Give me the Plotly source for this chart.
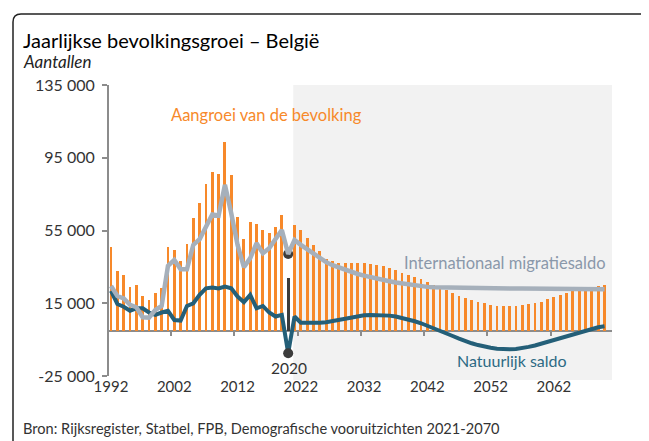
import plotly.graph_objects as go

years = list(range(1992, 2071))

growth = [46100, 32800, 30400, 24200, 24900, 18900, 17000, 20700, 23600, 46100,
          44300, 38500, 47600, 62100, 70200, 80500, 87400, 85800, 103700, 85600,
          62400, 50300, 59500, 58800, 55300, 53900, 57200, 63500, 28800, 58100,
          55300, 50800, 47100, 44000, 39200, 38300, 37400, 37400, 37400, 37300,
          37200, 36600, 36100, 35500, 34300, 33300, 31900, 30600, 29300, 28200,
          26500, 24900, 23500, 22300, 20700, 19200, 18100, 16800, 15700, 15000,
          14100, 13700, 13500, 13400, 13400, 13900, 14500, 15000, 15900, 17200,
          18300, 19400, 20500, 21800, 22900, 23600, 24200, 24700, 25100]

migration = [24500, 19000, 17600, 14100, 12800, 7300, 7100, 11300, 13500, 35500,
             38800, 33700, 33700, 47100, 50200, 57200, 63800, 63200, 80100, 64500,
             47100, 34800, 39800, 48000, 42500, 45300, 50200, 55300, 42100, 49800,
             47100, 44700, 42100, 39800, 37600, 35900, 34600, 33300, 32200, 31100,
             30200, 29300, 28500, 27800, 27100, 26400, 25800, 25300, 24700, 24400,
             24000, 23800, 23700, 23600, 23500, 23400, 23300, 23300, 23200, 23200,
             23200, 23100, 23100, 23100, 23100, 23100, 23100, 23000, 23000, 23000,
             23000, 22900, 22900, 22900, 22900, 22800, 22800, 22800, 22700]

natural = [21800, 14600, 13100, 10900, 12200, 12200, 9900, 8600, 9900, 10800,
           5800, 5500, 13500, 15000, 19600, 23200, 23600, 23100, 24200, 23200,
           18700, 15600, 19600, 12200, 13500, 9900, 7700, 8600, -12500, 7700,
           4300, 4200, 4200, 4300, 4600, 5200, 6000, 6800, 7500, 8000,
           8400, 8600, 8600, 8500, 8200, 7700, 7000, 6100, 5100, 4000,
           2700, 1300, -100, -1500, -3000, -4400, -5800, -7000, -8000, -8900,
           -9500, -10000, -10300, -10300, -10100, -9700, -9000, -8200, -7200, -6100,
           -5000, -3900, -2800, -1700, -700, 300, 1100, 1800, 2300]

highlight_year = 2020
projection_start = 2020.8

x_label_years = [1992, 2002, 2012, 2022, 2032, 2042, 2052, 2062]
x_tick_marks = [2001.5, 2011.5, 2021.5, 2031.5, 2041.5, 2051.5, 2061.5]
y_tickvals = [-25000, 15000, 55000, 95000, 135000]
y_ticktext = ["-25 000", "15 000", "55 000", "95 000", "135 000"]

ORANGE = "#F7892A"
GREY = "#A6B0BB"
TEAL = "#245F78"
DARK = "#3C3C3C"
AXIS = "#8C8C8C"

# the page body adds an 8px offset; work in page pixels and subtract it
OFF = 8
W, H = 649 - OFF, 441 - OFF
PL, PR, PT, PB = 109 - OFF, 612 - OFF, 85 - OFF, 376 - OFF


def px(xp):
    return (xp - OFF - PL) / (PR - PL)


def py(yp):
    return (PB - (yp - OFF)) / (PB - PT)


hi = years.index(highlight_year)
bar_colors = [DARK if y == highlight_year else ORANGE for y in years]

fig = go.Figure()
fig.add_trace(go.Bar(x=years, y=growth, marker=dict(color=bar_colors, line=dict(width=0)),
                     width=0.45, showlegend=False, hoverinfo="skip"))
fig.add_trace(go.Scatter(x=years, y=migration, mode="lines", xaxis="x2",
                         line=dict(color=GREY, width=4.5), showlegend=False))
fig.add_trace(go.Scatter(x=years, y=natural, mode="lines",
                         line=dict(color=TEAL, width=4), showlegend=False))
fig.add_trace(go.Scatter(x=[years[hi], years[hi]], y=[migration[hi], natural[hi]], mode="markers",
                         marker=dict(color=DARK, size=10), showlegend=False))

font = "Lato, 'Open Sans', sans-serif"

fig.update_layout(
    width=W, height=H,
    margin=dict(l=PL, r=W - PR, t=PT, b=H - PB, pad=0),
    paper_bgcolor="white", plot_bgcolor="white",
    font=dict(family=font, size=13, color="#333333"),
    bargap=0,
    xaxis=dict(range=[1991.68, 2071.18], tickvals=x_label_years, ticks="", showline=False,
               showgrid=False, zeroline=False, tickfont=dict(size=15, color="#333333")),
    xaxis2=dict(matches="x", overlaying="x", anchor="free", position=25000 / 160000,
                tickvals=x_tick_marks, ticks="outside", ticklen=4, tickwidth=2, tickcolor=AXIS,
                showticklabels=False, showline=True, linecolor=AXIS, linewidth=2,
                showgrid=False, zeroline=False, layer="below traces"),
    yaxis=dict(range=[-25000, 135000], tickvals=y_tickvals, ticktext=y_ticktext,
               ticks="outside", ticklen=5, tickwidth=2, tickcolor=AXIS, showline=True,
               linecolor=AXIS, linewidth=2, showgrid=False, zeroline=False,
               ticklabelstandoff=4,
               tickfont=dict(size=16, color="#333333")),
    shapes=[
        dict(type="rect", xref="x", yref="paper", x0=projection_start, x1=2071.18,
             y0=py(380), y1=1, fillcolor="#F2F2F2", line=dict(width=0), layer="below"),
        dict(type="path", xref="paper", yref="paper",
             path=(f"M {px(13)},{py(460)} L {px(13)},{py(22)} "
                   f"Q {px(13)},{py(14)} {px(21)},{py(14)} L {px(640)},{py(14)} "
                   f"Q {px(648)},{py(14)} {px(648)},{py(22)} L {px(648)},{py(460)}"),
             line=dict(color="#222222", width=1.5)),
    ],
    annotations=[
        dict(text="Jaarlijkse bevolkingsgroei – België", xref="paper", yref="paper",
             x=px(21), y=py(40), xanchor="left", yanchor="middle", showarrow=False,
             font=dict(size=20, color="#000000")),
        dict(text="<i>Aantallen</i>", xref="paper", yref="paper",
             x=px(21), y=py(61), xanchor="left", yanchor="middle", showarrow=False,
             font=dict(size=17, color="#222222")),
        dict(text="Bron: Rijksregister, Statbel, FPB, Demografische vooruitzichten 2021-2070",
             xref="paper", yref="paper", x=px(21), y=py(428), xanchor="left", yanchor="middle",
             showarrow=False, font=dict(size=14.6, color="#333333")),
        dict(text="Aangroei van de bevolking", x=2016.6, y=118500, showarrow=False,
             font=dict(size=16.5, color=ORANGE)),
        dict(text="Internationaal migratiesaldo", x=2054.2, y=37200, showarrow=False,
             font=dict(size=16.5, color="#8A98AA")),
        dict(text="Natuurlijk saldo", x=2055.4, y=-16200, showarrow=False,
             font=dict(size=16, color="#2D6A84")),
        dict(text="2020", x=2020.1, y=-20600, showarrow=False,
             font=dict(size=15.5, color="#333333")),
    ],
)

fig.write_html("out.html")
